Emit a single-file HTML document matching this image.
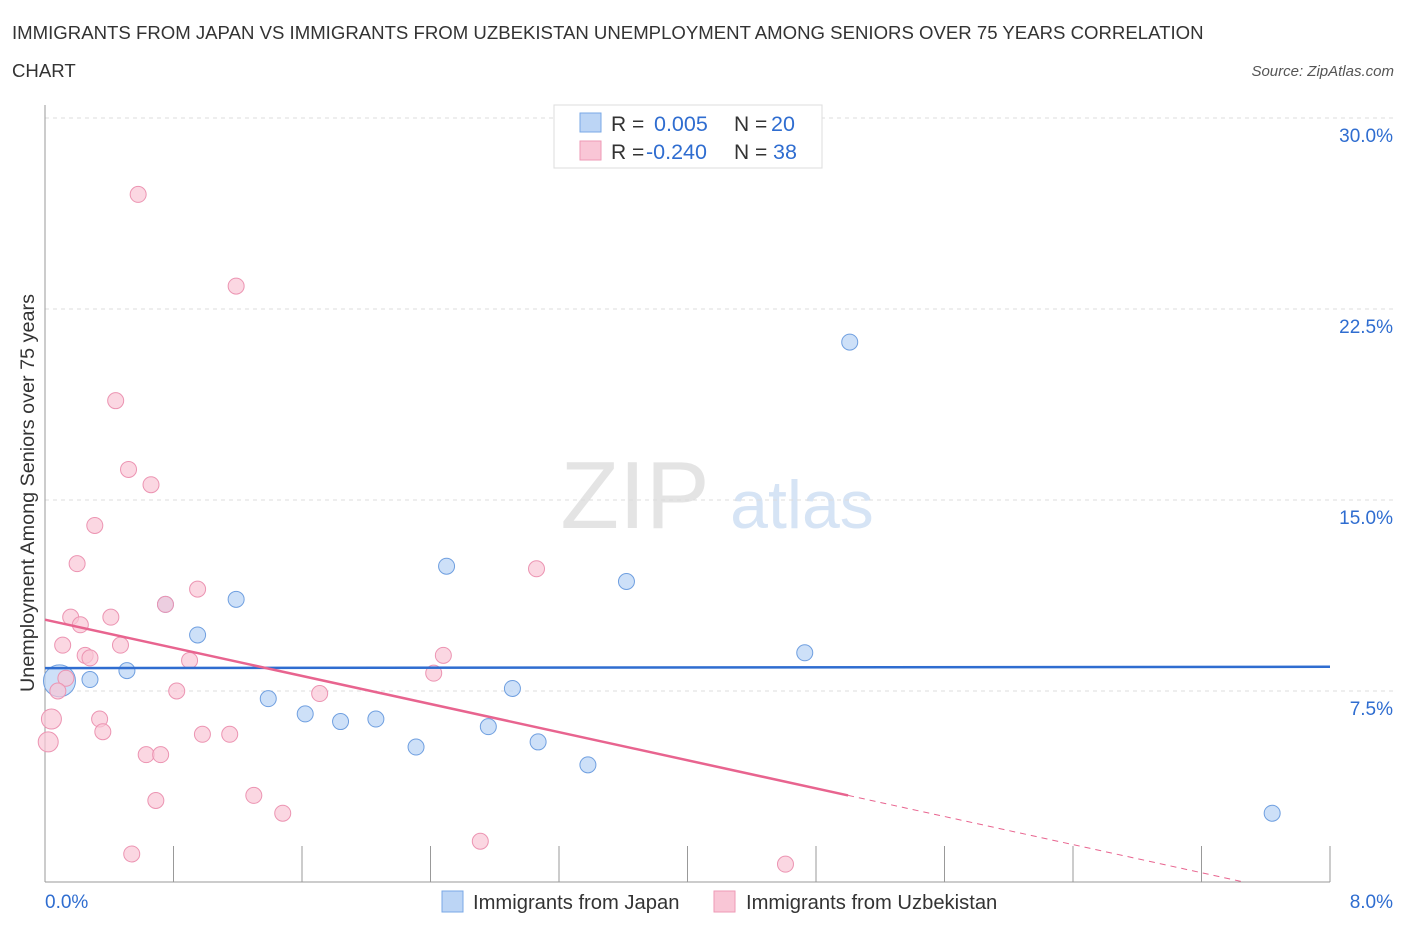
<!DOCTYPE html>
<html><head><meta charset="utf-8"><style>
body{margin:0;background:#fff;font-family:"Liberation Sans",sans-serif;}
svg text{font-family:"Liberation Sans",sans-serif;}
</style></head><body>
<svg id="c" width="1406" height="930" xmlns="http://www.w3.org/2000/svg">
<text x="12" y="39" font-size="18.6" fill="#333">IMMIGRANTS FROM JAPAN VS IMMIGRANTS FROM UZBEKISTAN UNEMPLOYMENT AMONG SENIORS OVER 75 YEARS CORRELATION</text>
<text x="12" y="77" font-size="18.6" fill="#333">CHART</text>
<text x="1394" y="76" font-size="15" fill="#555" font-style="italic" text-anchor="end">Source: ZipAtlas.com</text>
<text x="635" y="528" font-size="96" fill="#e4e4e4" font-family="Liberation Serif" text-anchor="middle">ZIP</text>
<text x="802" y="528" font-size="68" fill="#d6e4f5" text-anchor="middle">atlas</text>
<g id="grid"></g>
<g id="axes"></g>
<g id="pts"></g>
<g id="trends"></g>
<text transform="translate(34,493) rotate(-90)" font-size="19.8" fill="#333" text-anchor="middle">Unemployment Among Seniors over 75 years</text>
<g>
<rect x="554" y="105" width="268" height="63" fill="#fff" stroke="#ddd"/>
<rect x="580" y="113" width="21" height="19" fill="#bcd5f5" stroke="#7aa8e6"/>
<rect x="580" y="141" width="21" height="19" fill="#f9c6d6" stroke="#ee9ab6"/>
<text x="611" y="131" font-size="21" fill="#333">R = </text><text x="654" y="131" font-size="21.5" fill="#2f6dd0">0.005</text>
<text x="734" y="131" font-size="21" fill="#333">N = </text><text x="771" y="131" font-size="21.5" fill="#2f6dd0">20</text>
<text x="611" y="159" font-size="21" fill="#333">R = </text><text x="646" y="159" font-size="21.5" fill="#2f6dd0">-0.240</text>
<text x="734" y="159" font-size="21" fill="#333">N = </text><text x="773" y="159" font-size="21.5" fill="#2f6dd0">38</text>
</g>
<g>
<rect x="442" y="891" width="21" height="21" fill="#bcd5f5" stroke="#7aa8e6"/>
<text x="473" y="909" font-size="20.2" fill="#333">Immigrants from Japan</text>
<rect x="714" y="891" width="21" height="21" fill="#f9c6d6" stroke="#ee9ab6"/>
<text x="746" y="909" font-size="20.2" fill="#333">Immigrants from Uzbekistan</text>
</g>
</svg>
<script>
const yTicks=[7.5,15,22.5,30];
const yTickLabels=["7.5%","15.0%","22.5%","30.0%"];
const xEnds=[0,8];
const xEndLabels=["0.0%","8.0%"];
const japanX=[0.09,0.28,0.51,0.75,0.95,1.19,1.39,1.62,1.84,2.06,2.31,2.50,2.76,2.91,3.07,3.38,3.62,4.73,5.01,7.64];
const japanY=[7.9,7.95,8.3,10.9,9.7,11.1,7.2,6.6,6.3,6.4,5.3,12.4,6.1,7.6,5.5,4.6,11.8,9.0,21.2,2.7];
const uzX=[0.58,1.19,0.44,0.52,0.66,0.31,0.20,0.95,0.75,0.41,0.16,0.22,0.11,0.47,0.25,0.28,0.90,2.48,2.42,0.13,0.08,0.82,1.71,0.04,0.34,0.36,1.15,0.98,0.63,0.72,0.02,3.06,1.30,0.69,1.48,0.54,2.71,4.61];
const uzY=[27.0,23.4,18.9,16.2,15.6,14.0,12.5,11.5,10.9,10.4,10.4,10.1,9.3,9.3,8.9,8.8,8.7,8.9,8.2,8.0,7.5,7.5,7.4,6.4,6.4,5.9,5.8,5.8,5.0,5.0,5.5,12.3,3.4,3.2,2.7,1.1,1.6,0.7];
const japanTrend=[8.4,8.45];
const uzTrend=[10.3,-0.74];
const uzSolidEnd=5.0;
const X0=45,X1=1330,Y0=882,Y30=118;
const sx=v=>X0+(v-xEnds[0])/(xEnds[1]-xEnds[0])*(X1-X0);
const sy=v=>Y0-(v/30)*(Y0-Y30);
const NS="http://www.w3.org/2000/svg";
function mk(tag,attrs,parent){const e=document.createElementNS(NS,tag);for(const k in attrs)e.setAttribute(k,attrs[k]);document.getElementById(parent).appendChild(e);return e;}
yTicks.forEach((t,i)=>{
  const l=mk('line',{x1:X0,x2:1395,y1:sy(t),y2:sy(t),stroke:'#ddd','stroke-dasharray':'4,4'},'grid');
  
  
  const tx=mk('text',{x:1393,y:sy(t)+24,'font-size':19,fill:'#2f6dd0','text-anchor':'end'},'grid');
  tx.textContent=yTickLabels[i];
  
  
});
let ax=mk('line',{x1:X0,x2:X0,y1:105,y2:Y0,stroke:'#999'},'axes');


ax=mk('line',{x1:X0,x2:X1,y1:Y0,y2:Y0,stroke:'#999'},'axes');


for(let i=0;i<=10;i++){
  const x=X0+i*(X1-X0)/10;
  const t=mk('line',{x1:x,x2:x,y1:Y0,y2:i==0?Y0:846,stroke:'#999'},'axes');
  
  
}
xEnds.forEach((v,i)=>{
  const t=mk('text',{x:i?1393:45,y:908,'font-size':19,fill:'#2f6dd0','text-anchor':i?'end':'start'},'axes');
  t.textContent=xEndLabels[i];
  
  
});
japanX.forEach((x,i)=>{
  const c=mk('circle',{cx:sx(x),cy:sy(japanY[i]),r:i==0?16:8,fill:'#bcd5f5','fill-opacity':0.75,stroke:'#6f9fe0','stroke-width':1},'pts');
  
  
});
uzX.forEach((x,i)=>{
  const c=mk('circle',{cx:sx(x),cy:sy(uzY[i]),r:(i==30||i==23)?10:8,fill:'#f9c6d6','fill-opacity':0.7,stroke:'#ec94b2','stroke-width':1},'pts');
  
  
});
let t1=mk('line',{x1:sx(0),y1:sy(japanTrend[0]),x2:sx(8),y2:sy(japanTrend[1]),stroke:'#2f6dd0','stroke-width':2.5},'trends');


const uy=x=>uzTrend[0]+(uzTrend[1]-uzTrend[0])*x/8;
let t2=mk('line',{x1:sx(0),y1:sy(uy(0)),x2:sx(uzSolidEnd),y2:sy(uy(uzSolidEnd)),stroke:'#e8648f','stroke-width':2.5},'trends');


const xe=-uzTrend[0]/(uzTrend[1]-uzTrend[0])*8;
let t3=mk('line',{x1:sx(uzSolidEnd),y1:sy(uy(uzSolidEnd)),x2:sx(xe),y2:sy(0),stroke:'#e8648f','stroke-width':1,'stroke-dasharray':'6,5'},'trends');


</script>
</body></html>
